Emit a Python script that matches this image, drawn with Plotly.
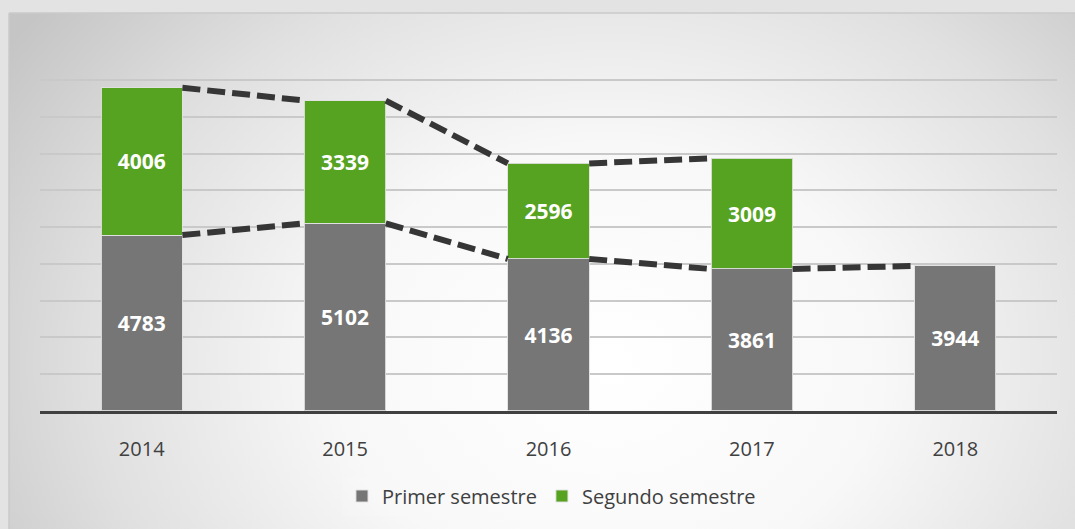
import base64
import plotly.graph_objects as go

years = ["2014", "2015", "2016", "2017", "2018"]
primer = [4783, 5102, 4136, 3861, 3944]
segundo = [4006, 3339, 2596, 3009, None]

W, H = 1075, 529
xpos = list(range(len(years)))
bar_w = 0.4
half = bar_w / 2

# background radial gradient (SVG)
svg = '''<svg xmlns="http://www.w3.org/2000/svg" width="1066" height="516" viewBox="0 0 1066 516">
<defs><radialGradient id="g" gradientUnits="userSpaceOnUse" cx="600" cy="350" r="720" gradientTransform="translate(600 350) scale(1 0.8) translate(-600 -350)">
<stop offset="0" stop-color="#ffffff"/><stop offset="0.38" stop-color="#f8f8f8"/><stop offset="0.72" stop-color="#e0e0e0"/><stop offset="1" stop-color="#c5c5c5"/>
</radialGradient></defs><rect width="1066" height="516" fill="url(#g)"/></svg>'''
src = "data:image/svg+xml;base64," + base64.b64encode(svg.encode()).decode()

fig = go.Figure()
fig.add_trace(go.Bar(
    x=xpos, y=primer, name="Primer semestre", width=bar_w,
    marker=dict(color="#767676", line=dict(color="rgba(225,225,225,0.9)", width=1)),
    text=[str(v) for v in primer], textposition="inside", insidetextanchor="middle",
    textangle=0, textfont=dict(family="Open Sans", size=21, color="white", weight="bold"),
    hoverinfo="skip"))
fig.add_trace(go.Bar(
    x=xpos, y=segundo, name="Segundo semestre", width=bar_w,
    marker=dict(color="#56a221", line=dict(color="rgba(225,225,225,0.9)", width=1)),
    text=[str(v) if v else "" for v in segundo], textposition="inside", insidetextanchor="middle",
    textangle=0, textfont=dict(family="Open Sans", size=21, color="white", weight="bold"),
    hoverinfo="skip"))

# dashed connectors
def connectors(vals):
    xs, ys = [], []
    for i in range(len(vals) - 1):
        if vals[i] is None or vals[i + 1] is None:
            continue
        xs += [xpos[i] + half, xpos[i + 1] - half, None]
        ys += [vals[i], vals[i + 1], None]
    return xs, ys

totals = [p + s if s is not None else None for p, s in zip(primer, segundo)]
for vals in (primer, totals):
    xs, ys = connectors(vals)
    fig.add_trace(go.Scatter(x=xs, y=ys, mode="lines", showlegend=False, hoverinfo="skip",
                             line=dict(color="#363636", width=6, dash="18px,7px")))

ymax = 9080
px_per = 331 / 9000
top_px = 411 - ymax * px_per

fig.update_layout(
    width=W, height=H, barmode="stack",
    margin=dict(l=0, r=0, t=0, b=0),
    paper_bgcolor="#e3e3e3", plot_bgcolor="rgba(0,0,0,0)",
    font=dict(family="Open Sans", color="#404040"),
    images=[dict(source=src, xref="paper", yref="paper", x=9 / W, y=1 - 13 / H,
                 sizex=(W - 9) / W, sizey=(H - 13) / H, sizing="stretch",
                 xanchor="left", yanchor="top", layer="below")],
    shapes=[dict(type="line", xref="paper", yref="paper", x0=9 / W, x1=1, y0=1 - 13 / H, y1=1 - 13 / H,
                 line=dict(color="#cacaca", width=1.5)),
            dict(type="line", xref="paper", yref="paper", x0=9 / W, x1=9 / W, y0=0, y1=1 - 13 / H,
                 line=dict(color="#cacaca", width=1.5))],
    xaxis=dict(domain=[40 / W, 1057 / W], range=[-0.5, 4.5], tickmode="array",
               tickvals=xpos, ticktext=years, showgrid=False, zeroline=False,
               showline=True, linecolor="#404040", linewidth=3,
               ticks="outside", ticklen=18, tickcolor="rgba(0,0,0,0)",
               tickfont=dict(size=20, color="#404040")),
    yaxis=dict(domain=[1 - 411 / H, 1 - top_px / H], range=[0, ymax], dtick=1000,
               showgrid=True, gridcolor="#c9c9c9", gridwidth=1.5,
               showticklabels=False, zeroline=False),
    legend=dict(orientation="h", x=0.513, xanchor="center", y=1 - 496 / H, yanchor="middle",
                font=dict(size=20, color="#404040"), bgcolor="rgba(255,255,255,0.12)",
                traceorder="normal"),
    showlegend=True,
)

fig.write_html("out.html", config={"displayModeBar": False},
               post_script="document.body.style.margin='0';document.body.style.padding='0';")
